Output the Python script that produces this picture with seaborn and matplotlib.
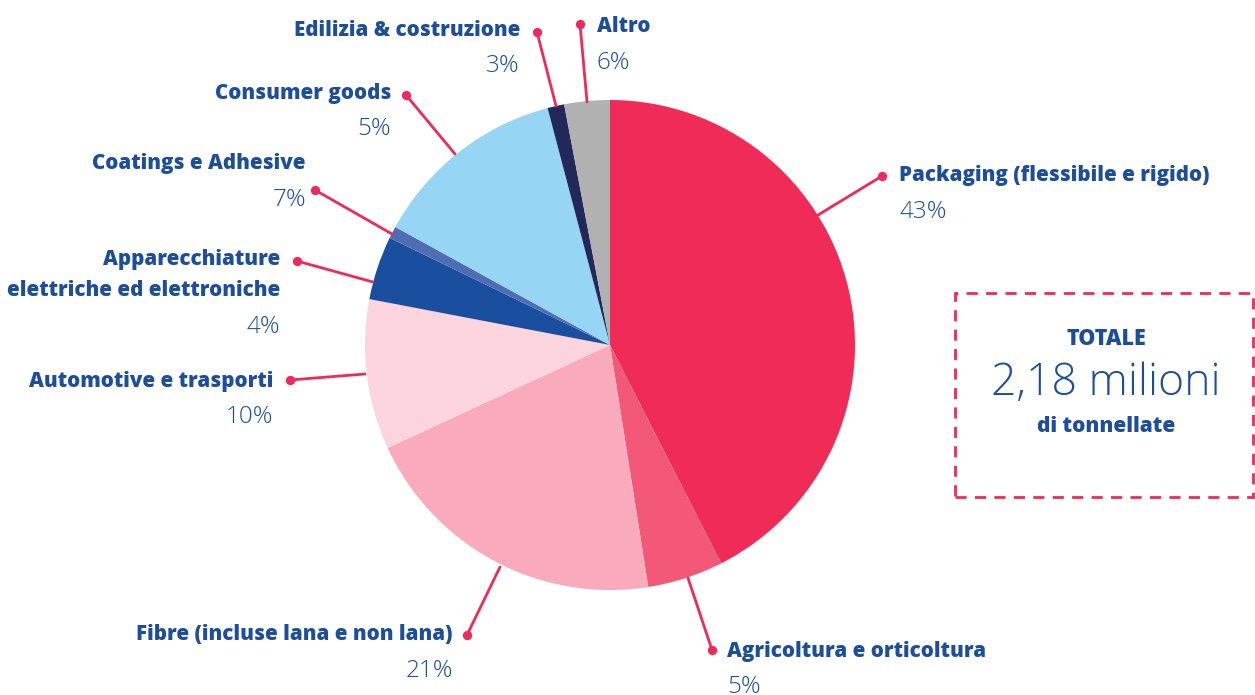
import matplotlib.pyplot as plt
import seaborn as sns
from matplotlib.patches import Rectangle

sns.set_theme(style="white")
plt.rcParams['font.family'] = ['Open Sans', 'DejaVu Sans']

# slice sizes as drawn (clockwise from 12 o'clock)
sectors = ['Packaging (flessibile e rigido)', 'Agricoltura e orticoltura',
           'Fibre (incluse lana e non lana)', 'Automotive e trasporti',
           'Apparecchiature\nelettriche ed elettroniche', 'Coatings e Adhesive',
           'Consumer goods', 'Edilizia & costruzione', 'Altro']
shares = [42.5, 5.0, 20.6, 9.9, 4.2, 0.8, 12.9, 1.1, 3.0]
pct_labels = ['43%', '5%', '21%', '10%', '4%', '7%', '5%', '3%', '6%']
colors = ['#F12B57', '#F45878', '#F9AABD', '#FCD4DD', '#1A4F9F',
          '#4F6DB3', '#96D5F4', '#22295A', '#B1B1B1']

BLUE = '#1C4E9C'
RED = '#F0295A'
W, H = 1255, 695

fig = plt.figure(figsize=(12.55, 6.95), dpi=100)
ax = fig.add_axes([0, 0, 1, 1])

cx, cy, r = 610, H - 345, 245
ax.pie(shares, colors=colors, startangle=90, counterclock=False,
       center=(cx, cy), radius=r, wedgeprops=dict(linewidth=0), frame=True)
ax.set_xlim(0, W)
ax.set_ylim(0, H)
ax.axis('off')

# leader line start (on pie), dot, first text line, alignment  -- pixel coords, y from top
callouts = [
    ((818, 215), (882, 176), (899, 176), 'left'),
    ((688, 578), (712, 650), (727, 651), 'left'),
    ((500, 567), (467, 635), (453, 635), 'right'),
    ((365, 374), (290, 380), (273, 381), 'right'),
    ((373, 282), (297, 261), (280, 259), 'right'),
    ((392, 234), (315, 190), (306, 164), 'right'),
    ((455, 154), (406, 95), (391, 93), 'right'),
    ((556, 106), (537, 32), (520, 30), 'right'),
    ((587, 102), (580, 24), (597, 27), 'left'),
]

for name, pct, (p0, p1, t, ha) in zip(sectors, pct_labels, callouts):
    ax.plot([p0[0], p1[0]], [H - p0[1], H - p1[1]], color=RED, lw=2, zorder=3)
    ax.scatter([p1[0]], [H - p1[1]], s=45, color=RED, zorder=4, linewidths=0)
    for i, line in enumerate(name.split('\n')):
        ax.text(t[0], H - t[1] - i * 32, line, ha=ha, va='center', color=BLUE,
                fontsize=14.8, fontweight=800)
    nlines = name.count('\n')
    ax.text(t[0], H - t[1] - 36 - nlines * 32, pct, ha=ha, va='center',
            color=BLUE, fontsize=17.5, fontweight='light')

# total box
ax.add_patch(Rectangle((955, H - 497), 298, 204, fill=False, edgecolor=RED,
                       lw=2, linestyle=(0, (4, 3)), zorder=2))
bx = 1106
ax.text(bx, H - 339, 'TOTALE', ha='center', va='center', color=BLUE,
        fontsize=15.5, fontweight='heavy')
ax.text(bx, H - 384, '2,18 milioni', ha='center', va='center', color=BLUE,
        fontsize=32, fontweight='light')
ax.text(bx, H - 427, 'di tonnellate', ha='center', va='center', color=BLUE,
        fontsize=15, fontweight='heavy')

plt.savefig('out.png', dpi=100, facecolor='white')
